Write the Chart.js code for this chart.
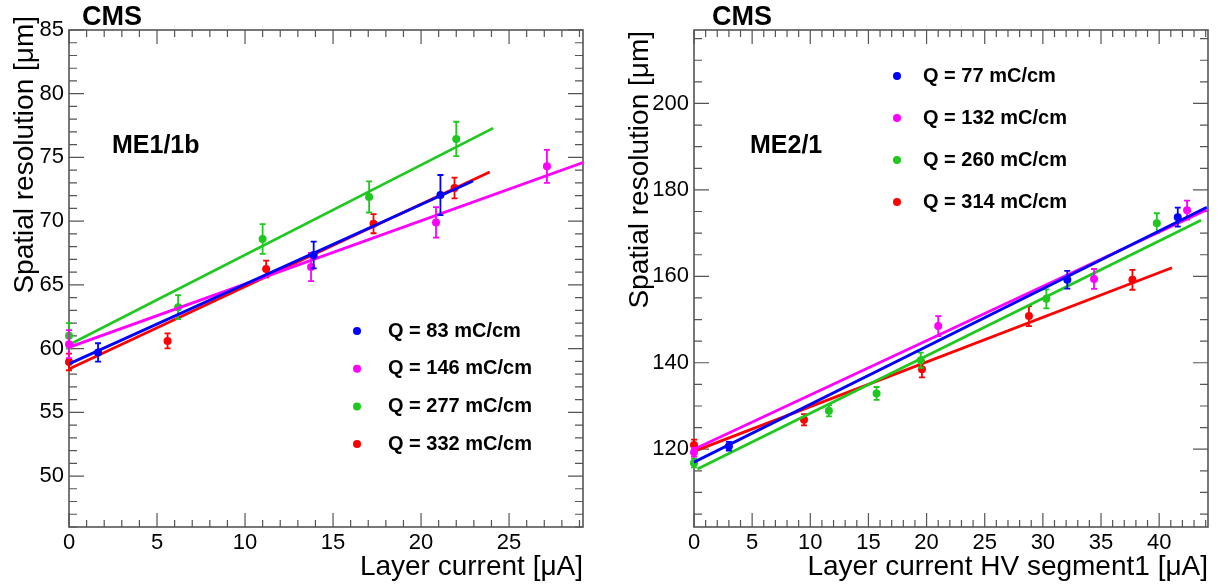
<!DOCTYPE html>
<html>
<head>
<meta charset="utf-8">
<title>CMS spatial resolution vs layer current</title>
<script src="https://cdn.jsdelivr.net/npm/chart.js@4.4.1/dist/chart.umd.min.js"></script>
<style>
  html, body { margin: 0; padding: 0; background: #fff; }
  #wrap { position: relative; width: 1222px; height: 586px; }
  .panel { position: absolute; top: 0; height: 586px; }
  #left { left: 0; width: 605px; }
  #right { left: 605px; width: 617px; }
</style>
</head>
<body>
<div id="wrap">
  <div class="panel" id="left"><canvas id="leftChart"></canvas></div>
  <div class="panel" id="right"><canvas id="rightChart"></canvas></div>
</div>
<script>
// ---- ME1/1b (left) ----
const me11Labels = ['Q = 83 mC/cm', 'Q = 146 mC/cm', 'Q = 277 mC/cm', 'Q = 332 mC/cm'];
const me11XTicks = [0, 5, 10, 15, 20, 25];
const me11YTicks = [50, 55, 60, 65, 70, 75, 80, 85];

const me11BlueX = [1.65, 13.9, 21.1];
const me11BlueY = [59.7, 67.35, 72.05];
const me11BlueErr = [0.72, 1.05, 1.57];
const me11BlueFitX = [0, 22.95];
const me11BlueFitY = [58.8, 73.15];

const me11PinkX = [0, 13.75, 20.85, 27.15];
const me11PinkY = [60.35, 66.4, 69.9, 74.3];
const me11PinkErr = [1.1, 1.1, 1.2, 1.3];
const me11PinkFitX = [0, 29.2];
const me11PinkFitY = [60.1, 74.6];

const me11GreenX = [0, 6.2, 11.0, 17.05, 22.0];
const me11GreenY = [61.0, 63.25, 68.6, 71.9, 76.45];
const me11GreenErr = [1.0, 0.94, 1.16, 1.22, 1.35];
const me11GreenFitX = [0, 24.1];
const me11GreenFitY = [60.3, 77.3];

const me11RedX = [0, 5.6, 11.2, 17.3, 21.9];
const me11RedY = [58.95, 60.6, 66.25, 69.8, 72.6];
const me11RedErr = [0.65, 0.59, 0.65, 0.75, 0.82];
const me11RedFitX = [0, 23.9];
const me11RedFitY = [58.4, 73.85];

// ---- ME2/1 (right) ----
const me21Labels = ['Q = 77 mC/cm', 'Q = 132 mC/cm', 'Q = 260 mC/cm', 'Q = 314 mC/cm'];
const me21XTicks = [0, 5, 10, 15, 20, 25, 30, 35, 40];
const me21YTicks = [120, 140, 160, 180, 200];

const me21BlueX = [3.0, 32.1, 41.6];
const me21BlueY = [120.7, 159.2, 173.7];
const me21BlueErr = [1.0, 2.05, 2.2];
const me21BlueFitX = [0, 44.1];
const me21BlueFitY = [117.0, 176.0];

const me21PinkX = [0, 21.0, 34.4, 42.4];
const me21PinkY = [119.3, 148.5, 159.4, 175.3];
const me21PinkErr = [1.0, 2.3, 2.3, 2.2];
const me21PinkFitX = [0, 44.1];
const me21PinkFitY = [120.0, 175.4];

const me21GreenX = [0, 11.6, 15.7, 19.5, 30.3, 39.8];
const me21GreenY = [116.8, 128.9, 132.9, 140.6, 154.8, 172.3];
const me21GreenErr = [1.0, 1.3, 1.5, 1.75, 2.2, 2.3];
const me21GreenFitX = [0.3, 43.6];
const me21GreenFitY = [115.4, 173.0];

const me21RedX = [0, 9.46, 19.6, 28.8, 37.7];
const me21RedY = [121.0, 126.8, 138.5, 150.8, 159.2];
const me21RedErr = [1.2, 1.3, 1.9, 2.3, 2.3];
const me21RedFitX = [0, 41.1];
const me21RedFitY = [119.5, 162.0];

const BLUE = '#0000ff', PINK = '#ff00ff', GREEN = '#1fc81f', RED = '#ff0000';
const FONT = '"Liberation Sans", Arial, Helvetica, sans-serif';

function pts(xs, ys) {
    return xs.map((x, i) => ({ x: x, y: ys[i] }));
}

function series(label, color, xs, ys, errs, fitX, fitY) {
    return [
        {
            type: 'line',
            label: label + ' fit',
            data: pts(fitX, fitY),
            borderColor: color,
            borderWidth: 2.8,
            pointRadius: 0,
            showLine: true,
            fill: false
        },
        {
            type: 'scatter',
            label: label,
            data: pts(xs, ys),
            errors: errs,
            backgroundColor: color,
            borderColor: color,
            pointRadius: 4,
            pointBorderWidth: 0,
            clip: false
        }
    ];
}

// error bars with small caps, drawn under the markers
const errorBars = {
    id: 'errorBars',
    beforeDatasetDraw(chart, args) {
        const ds = chart.data.datasets[args.index];
        if (!ds.errors) return;
        const { ctx, scales: { x, y } } = chart;
        ctx.save();
        ctx.strokeStyle = ds.borderColor;
        ctx.lineWidth = 1.8;
        ctx.beginPath();
        ds.data.forEach((p, i) => {
            const px = x.getPixelForValue(p.x);
            const top = y.getPixelForValue(p.y + ds.errors[i]);
            const bot = y.getPixelForValue(p.y - ds.errors[i]);
            ctx.moveTo(px, top); ctx.lineTo(px, bot);
            ctx.moveTo(px - 3, top); ctx.lineTo(px + 3, top);
            ctx.moveTo(px - 3, bot); ctx.lineTo(px + 3, bot);
        });
        ctx.stroke();
        ctx.restore();
    }
};

// ROOT style frame with ticks on all four sides, pointing inwards
const rootFrame = {
    id: 'rootFrame',
    beforeDatasetsDraw(chart, args, o) {
        const { ctx, chartArea: a, scales: { x, y } } = chart;
        ctx.save();
        ctx.strokeStyle = '#555';
        ctx.lineWidth = 1.2;
        ctx.beginPath();
        const steps = (sc, minor, major, fn) => {
            const start = Math.ceil(sc.min / minor - 1e-9);
            for (let i = start; i * minor <= sc.max + 1e-9; i++) {
                const v = i * minor;
                const isMajor = Math.abs(v / major - Math.round(v / major)) < 1e-6;
                fn(sc.getPixelForValue(v), isMajor);
            }
        };
        steps(x, o.xMinor, o.xMajor, (px, big) => {
            const len = big ? 14 : 7;
            ctx.moveTo(px, a.bottom); ctx.lineTo(px, a.bottom - len);
            ctx.moveTo(px, a.top); ctx.lineTo(px, a.top + len);
        });
        steps(y, o.yMinor, o.yMajor, (py, big) => {
            const len = big ? 15 : 8;
            ctx.moveTo(a.left, py); ctx.lineTo(a.left + len, py);
            ctx.moveTo(a.right, py); ctx.lineTo(a.right - len, py);
        });
        ctx.stroke();
        ctx.lineWidth = 1.6;
        ctx.strokeRect(a.left, a.top, a.right - a.left, a.bottom - a.top);
        ctx.restore();
    }
};

// CMS label, chamber tag, legend and the y title
const panelText = {
    id: 'panelText',
    afterDraw(chart, args, o) {
        const ctx = chart.ctx;
        ctx.save();
        ctx.fillStyle = '#000';
        ctx.textAlign = 'left';
        ctx.textBaseline = 'alphabetic';
        ctx.font = 'bold 27px ' + FONT;
        ctx.fillText('CMS', o.cmsX, o.cmsY);
        ctx.font = 'bold 25px ' + FONT;
        ctx.fillText(o.tag, o.tagX, o.tagY);

        ctx.font = 'bold 20px ' + FONT;
        ctx.textBaseline = 'middle';
        chart.data.datasets.filter(d => d.errors).forEach((d, i) => {
            const yy = o.legendY + i * o.legendStep;
            ctx.fillStyle = d.backgroundColor;
            ctx.beginPath();
            ctx.arc(o.legendDotX, yy, 4, 0, Math.PI * 2);
            ctx.fill();
            ctx.fillStyle = '#000';
            ctx.fillText(d.label, o.legendTextX, yy);
        });

        ctx.translate(o.yTitleX, o.yTitleTop);
        ctx.rotate(-Math.PI / 2);
        ctx.textAlign = 'right';
        ctx.font = '28px ' + FONT;
        ctx.fillText('Spatial resolution [\u03bcm]', 0, 0);
        ctx.restore();
    }
};

function makeChart(id, cfg) {
    const datasets = [].concat(
        series(cfg.labels[0], BLUE, ...cfg.blue),
        series(cfg.labels[1], PINK, ...cfg.pink),
        series(cfg.labels[2], GREEN, ...cfg.green),
        series(cfg.labels[3], RED, ...cfg.red)
    );
    return new Chart(document.getElementById(id).getContext('2d'), {
        type: 'scatter',
        data: { datasets: datasets },
        plugins: [errorBars, rootFrame, panelText],
        options: {
            responsive: true, maintainAspectRatio: false,
            animation: false,
            devicePixelRatio: 1,
            layout: { padding: { top: 30, right: cfg.padRight, left: 0, bottom: 0 } },
            plugins: {
                legend: { display: false },
                tooltip: { enabled: false },
                rootFrame: cfg.frame,
                panelText: cfg.text
            },
            scales: {
                x: {
                    type: 'linear', min: 0, max: cfg.xMax,
                    grid: { display: false, drawTicks: false },
                    border: { display: false },
                    afterBuildTicks: s => { s.ticks = cfg.xTicks.map(v => ({ value: v })); },
                    afterFit: s => { s.height = 59; },
                    ticks: { color: '#000', padding: 3, maxRotation: 0, font: { size: 22, family: FONT } },
                    title: {
                        display: true, text: cfg.xTitle, align: 'end', color: '#000',
                        padding: { top: 0, bottom: 2 },
                        font: { size: 28, family: FONT }
                    }
                },
                y: {
                    type: 'linear', min: cfg.yMin, max: cfg.yMax,
                    grid: { display: false, drawTicks: false },
                    border: { display: false },
                    afterBuildTicks: s => { s.ticks = cfg.yTicks.map(v => ({ value: v })); },
                    afterFit: s => { s.width = cfg.yWidth; },
                    ticks: { color: '#000', padding: 5, font: { size: 22, family: FONT } }
                }
            }
        }
    });
}

makeChart('leftChart', {
    labels: me11Labels,
    blue: [me11BlueX, me11BlueY, me11BlueErr, me11BlueFitX, me11BlueFitY],
    pink: [me11PinkX, me11PinkY, me11PinkErr, me11PinkFitX, me11PinkFitY],
    green: [me11GreenX, me11GreenY, me11GreenErr, me11GreenFitX, me11GreenFitY],
    red: [me11RedX, me11RedY, me11RedErr, me11RedFitX, me11RedFitY],
    xTicks: me11XTicks, yTicks: me11YTicks,
    xMax: 29.2, yMin: 46, yMax: 85,
    yWidth: 69, padRight: 22,
    xTitle: 'Layer current [\u03bcA]',
    frame: { xMinor: 1, xMajor: 5, yMinor: 1, yMajor: 5 },
    text: {
        cmsX: 82, cmsY: 25, tag: 'ME1/1b', tagX: 112, tagY: 153,
        legendDotX: 357, legendTextX: 388, legendY: 331, legendStep: 37.7,
        yTitleX: 25, yTitleTop: 16
    }
});

makeChart('rightChart', {
    labels: me21Labels,
    blue: [me21BlueX, me21BlueY, me21BlueErr, me21BlueFitX, me21BlueFitY],
    pink: [me21PinkX, me21PinkY, me21PinkErr, me21PinkFitX, me21PinkFitY],
    green: [me21GreenX, me21GreenY, me21GreenErr, me21GreenFitX, me21GreenFitY],
    red: [me21RedX, me21RedY, me21RedErr, me21RedFitX, me21RedFitY],
    xTicks: me21XTicks, yTicks: me21YTicks,
    xMax: 44.2, yMin: 102, yMax: 217,
    yWidth: 89, padRight: 14,
    xTitle: 'Layer current HV segment1 [\u03bcA]',
    frame: { xMinor: 1, xMajor: 5, yMinor: 5, yMajor: 20 },
    text: {
        cmsX: 107, cmsY: 25, tag: 'ME2/1', tagX: 145, tagY: 153,
        legendDotX: 292, legendTextX: 318, legendY: 76, legendStep: 42,
        yTitleX: 35, yTitleTop: 31
    }
});
</script>
</body>
</html>
